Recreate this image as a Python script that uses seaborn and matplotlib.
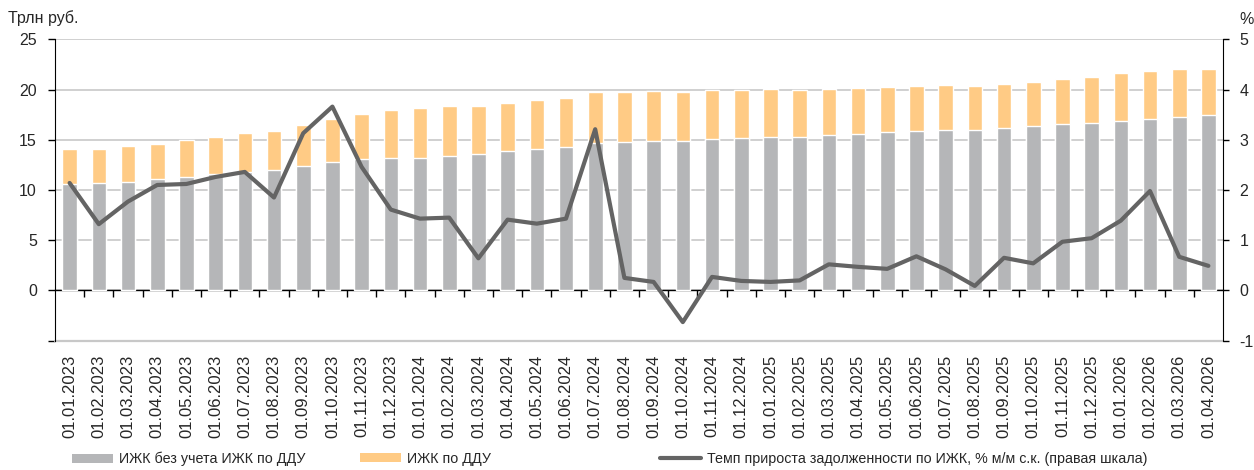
import numpy as np
import pandas as pd
import seaborn as sns
import matplotlib.pyplot as plt
from matplotlib.patches import Patch
from matplotlib.lines import Line2D

dates = ["01.01.2023", "01.02.2023", "01.03.2023", "01.04.2023", "01.05.2023", "01.06.2023",
         "01.07.2023", "01.08.2023", "01.09.2023", "01.10.2023", "01.11.2023", "01.12.2023",
         "01.01.2024", "01.02.2024", "01.03.2024", "01.04.2024", "01.05.2024", "01.06.2024",
         "01.07.2024", "01.08.2024", "01.09.2024", "01.10.2024", "01.11.2024", "01.12.2024",
         "01.01.2025", "01.02.2025", "01.03.2025", "01.04.2025", "01.05.2025", "01.06.2025",
         "01.07.2025", "01.08.2025", "01.09.2025", "01.10.2025", "01.11.2025", "01.12.2025",
         "01.01.2026", "01.02.2026", "01.03.2026", "01.04.2026"]

izhk_wo_ddu = [10.62, 10.72, 10.82, 11.09, 11.32, 11.58, 11.82, 11.98, 12.41, 12.78,
               13.05, 13.21, 13.21, 13.41, 13.61, 13.84, 14.10, 14.30, 14.64, 14.74,
               14.90, 14.90, 15.07, 15.20, 15.30, 15.30, 15.44, 15.60, 15.74, 15.90,
               16.00, 16.00, 16.20, 16.40, 16.60, 16.70, 16.90, 17.03, 17.23, 17.46]

izhk_ddu = [3.42, 3.38, 3.55, 3.51, 3.62, 3.69, 3.81, 3.86, 4.02, 4.28,
            4.54, 4.72, 4.98, 4.92, 4.78, 4.78, 4.82, 4.85, 5.11, 4.98,
            4.92, 4.88, 4.91, 4.79, 4.78, 4.70, 4.61, 4.55, 4.48, 4.45,
            4.42, 4.35, 4.35, 4.35, 4.45, 4.58, 4.77, 4.84, 4.77, 4.57]

growth = [2.14, 1.32, 1.77, 2.10, 2.12, 2.26, 2.36, 1.85, 3.13, 3.66,
          2.46, 1.61, 1.43, 1.45, 0.64, 1.41, 1.33, 1.43, 3.21, 0.25,
          0.17, -0.63, 0.27, 0.19, 0.17, 0.20, 0.52, 0.47, 0.43, 0.68,
          0.42, 0.09, 0.65, 0.54, 0.97, 1.04, 1.39, 1.98, 0.67, 0.49]

labels = ["ИЖК без учета ИЖК по ДДУ", "ИЖК по ДДУ",
          "Темп прироста задолженности по ИЖК, % м/м с.к. (правая шкала)"]

left_ticks = [-5, 0, 5, 10, 15, 20, 25]
left_ticklabels = ["", "0", "5", "10", "15", "20", "25"]
right_ticks = [-1, 0, 1, 2, 3, 4, 5]

GRAY = "#b5b6b8"
ORANGE = "#ffcb85"
LINE = "#646464"
GRID = "#c8c8c8"

df = pd.DataFrame({"date": dates, "base": izhk_wo_ddu, "ddu": izhk_ddu, "growth": growth})
df["total"] = df["base"] + df["ddu"]
df["pos"] = np.arange(len(df))

sns.set_style("white")
plt.rcParams["font.family"] = ["Liberation Sans", "DejaVu Sans"]
plt.rcParams["axes.unicode_minus"] = False

fig = plt.figure(figsize=(12.54, 4.70), dpi=100)
ax = fig.add_axes([55 / 1254, 1 - 340.7 / 470, (1223 - 55) / 1254, (340.7 - 39.3) / 470])

sns.barplot(data=df, x="date", y="total", color=ORANGE, saturation=1, width=0.5, ax=ax, zorder=2)
sns.barplot(data=df, x="date", y="base", color=GRAY, saturation=1, width=0.5, ax=ax, zorder=3)

n = len(df)
ax.set_xlim(-0.5, n - 0.5)
ax.set_ylim(-5, 25)
ax.set_yticks(left_ticks)
ax.set_yticklabels(left_ticklabels)
ax.set_xlabel("")
ax.set_ylabel("")
ax.grid(axis="y", color=GRID, lw=1.2)
ax.axhline(-5, color=GRID, lw=1.6, clip_on=False, zorder=1)
ax.set_axisbelow(True)

# axis at zero with boundary ticks
ax.spines["bottom"].set_position(("data", 0))
ax.spines["bottom"].set_color("black")
ax.spines["bottom"].set_linewidth(1)
ax.set_xticks(np.arange(0.5, n - 1, 1))
ax.tick_params(axis="x", which="major", direction="out", length=5, width=1, color="black",
               labelbottom=False, bottom=True)
for s in ["top", "right"]:
    ax.spines[s].set_visible(False)
ax.spines["left"].set_color("black")
ax.tick_params(axis="y", direction="out", length=5, width=1, color="black", left=True,
               labelsize=11.5, pad=8)

sec = ax.secondary_xaxis("bottom")
sec.set_xticks(np.arange(n), labels=df["date"].tolist())
sec.tick_params(length=0, pad=10, labelsize=12, labelrotation=90)
sec.spines["bottom"].set_visible(False)

ax2 = ax.twinx()
sns.lineplot(data=df, x="pos", y="growth", color=LINE, lw=3, ax=ax2, zorder=5)
ax2.set_ylim(-1, 5)
ax2.set_yticks(right_ticks)
ax2.set_ylabel("")
ax2.set_xlabel("")
for s in ["top", "left", "bottom"]:
    ax2.spines[s].set_visible(False)
ax2.spines["right"].set_color("black")
ax2.tick_params(axis="y", direction="out", length=4, width=1, color="black", right=True,
                labelsize=11.5, pad=8)
ax2.grid(False)
ax2.set_xlim(-0.5, n - 0.5)

fig.text(8 / 1254, 1 - 18 / 470, "Трлн руб.", fontsize=11.5, ha="left", va="center")
fig.text(1247 / 1254, 1 - 19 / 470, "%", fontsize=11.5, ha="center", va="center")

handles = [Patch(facecolor=GRAY, edgecolor="none"),
           Patch(facecolor=ORANGE, edgecolor="none"),
           Line2D([0], [0], color=LINE, lw=3)]
xs = [72, 360, 660]
for h, lab, x in zip(handles, labels, xs):
    fig.legend(handles=[h], labels=[lab], loc="center left",
               bbox_to_anchor=(x / 1254, 1 - 459 / 470), frameon=False,
               borderpad=0, borderaxespad=0, handlelength=2.9, handleheight=0.6,
               handletextpad=0.4, fontsize=10.3)

fig.savefig("out.png", dpi=100)
